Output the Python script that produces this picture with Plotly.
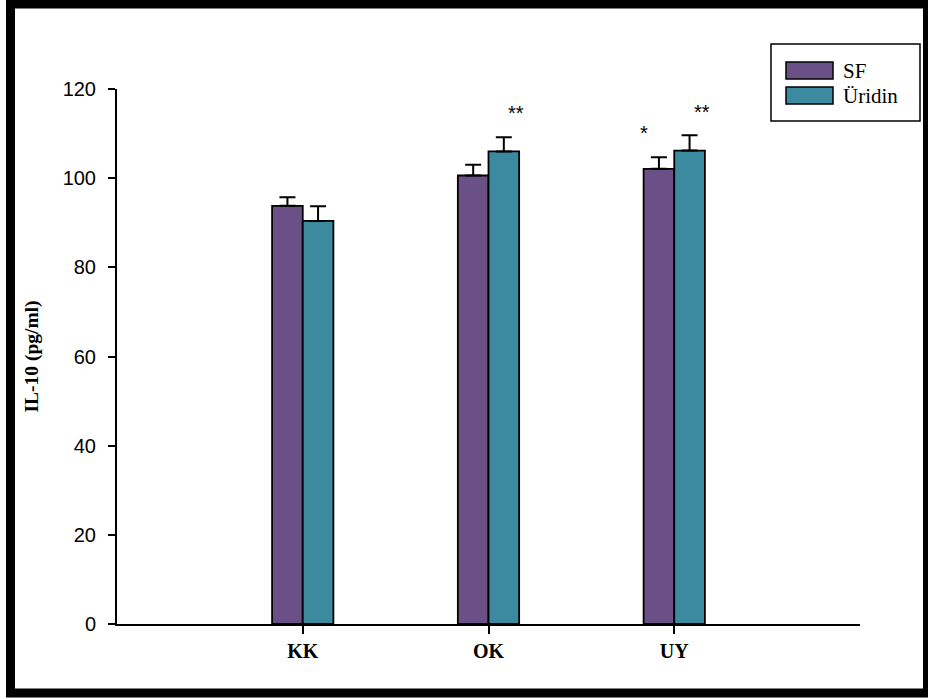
import plotly.graph_objects as go

# IL-10 levels per group
groups = ["KK", "OK", "UY"]
sf_mean = [93.8, 100.6, 102.1]
sf_err = [1.9, 2.4, 2.6]
uridin_mean = [90.4, 106.0, 106.2]
uridin_err = [3.3, 3.2, 3.4]
# significance marks shown above each bar ("" = none)
sf_sig = ["", "", "*"]
uridin_sig = ["", "**", "**"]

SF_COLOR = "#6A5086"
URIDIN_COLOR = "#3C8AA0"

W, H = 928, 699
L, R, T, B = 117, 68, 89, 75
PW, PH = W - L - R, H - T - B


def px_x(p):
    return (p - L) / PW


def px_y(p):
    return (H - B - p) / PH


fig = go.Figure()
for name, vals, errs, color in [
    ("SF", sf_mean, sf_err, SF_COLOR),
    ("Üridin", uridin_mean, uridin_err, URIDIN_COLOR),
]:
    fig.add_trace(go.Bar(
        x=groups, y=vals, name=name,
        marker=dict(color=color, line=dict(color="black", width=1.8)),
        error_y=dict(type="data", array=errs, arrayminus=[0] * len(errs),
                     symmetric=False, color="black", thickness=2, width=8),
        showlegend=False,
    ))

# significance asterisks
gap = 6
annotations = []
for sigs, vals, errs, shifts in [
    (sf_sig, sf_mean, sf_err, [-29, -29, -30]),
    (uridin_sig, uridin_mean, uridin_err, [27, 27, 28]),
]:
    for g, s, v, e, sh in zip(groups, sigs, vals, errs, shifts):
        if s:
            annotations.append(dict(
                x=g, y=v + e + gap, text=s, showarrow=False, xshift=sh, yshift=-3,
                font=dict(family="Liberation Sans, Arial", size=20, color="black"),
                xanchor="center", yanchor="middle",
            ))

# legend box drawn with shapes and text
shapes = [
    dict(type="rect", xref="paper", yref="paper",
         x0=px_x(771), x1=px_x(920), y0=px_y(121), y1=px_y(44),
         line=dict(color="black", width=1.5), fillcolor="white"),
]
for label, color, top in [("SF", SF_COLOR, 62), ("Üridin", URIDIN_COLOR, 87)]:
    shapes.append(dict(type="rect", xref="paper", yref="paper",
                       x0=px_x(786), x1=px_x(833), y0=px_y(top + 17), y1=px_y(top),
                       line=dict(color="black", width=1.5), fillcolor=color))
    annotations.append(dict(
        xref="paper", yref="paper", x=px_x(841), y=px_y(top + 8.5),
        text=label, showarrow=False, xanchor="left", yanchor="middle",
        font=dict(family="Liberation Serif, Times New Roman", size=21, color="black"),
    ))

# outer frame
shapes.append(dict(type="rect", xref="paper", yref="paper",
                   x0=px_x(10.5), x1=px_x(927.5), y0=px_y(693), y1=px_y(4),
                   line=dict(color="black", width=9), layer="above"))

fig.update_layout(
    width=W, height=H,
    margin=dict(l=L, r=R, t=T, b=B),
    paper_bgcolor="white", plot_bgcolor="white",
    barmode="group", bargap=0.67, bargroupgap=0,
    shapes=shapes, annotations=annotations,
    showlegend=False,
)
fig.update_xaxes(
    type="category", range=[-1, 3],
    showline=True, linecolor="black", linewidth=2,
    ticks="outside", ticklen=8, tickwidth=1.5, tickcolor="black",
    tickfont=dict(family="Liberation Serif, Times New Roman", size=20, color="black",
                  weight="bold"),
    showgrid=False, zeroline=False,
)
fig.update_yaxes(
    range=[0, 120], tickvals=[0, 20, 40, 60, 80, 100, 120],
    showline=True, linecolor="black", linewidth=2,
    ticks="outside", ticklen=7, tickwidth=1.5, tickcolor="black",
    tickfont=dict(family="Liberation Sans, Arial", size=20, color="black"),
    ticklabelstandoff=8,
    showgrid=False, zeroline=False,
    title=dict(text="IL-10 (pg/ml)", standoff=19,
               font=dict(family="Liberation Serif, Times New Roman", size=19.5,
                         color="black", weight="bold")),
)

fig.write_html("out.html")
